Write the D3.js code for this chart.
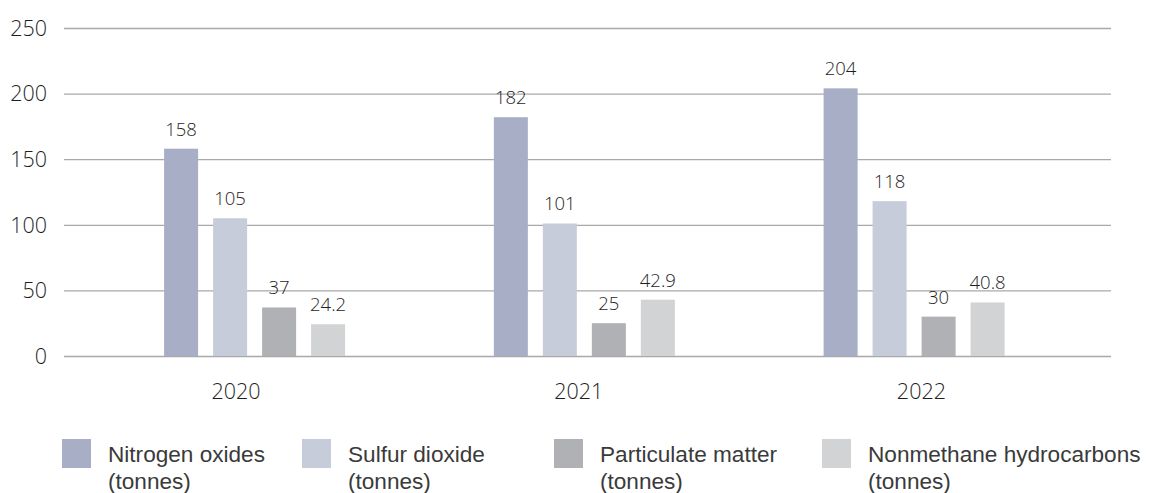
<!DOCTYPE html>
<html>
<head>
<meta charset="utf-8">
<script src="https://cdn.jsdelivr.net/npm/d3@7"></script>
<style>
  html, body { margin: 0; padding: 0; background: #fff; }
  svg { display: block; }
</style>
</head>
<body>
<svg id="chart" width="1151" height="493"></svg>
<script>
// ---- data ----
const years = ["2020", "2021", "2022"];
const seriesNames = ["Nitrogen oxides", "Sulfur dioxide", "Particulate matter", "Nonmethane hydrocarbons"];
const nitrogenOxides = [158, 182, 204];
const sulfurDioxide = [105, 101, 118];
const particulateMatter = [37, 25, 30];
const nonmethaneHydrocarbons = [24.2, 42.9, 40.8];
const valueLabels = [
  ["158", "182", "204"],
  ["105", "101", "118"],
  ["37", "25", "30"],
  ["24.2", "42.9", "40.8"]
];
const yTicks = [0, 50, 100, 150, 200, 250];
const unitLabel = "(tonnes)";

// ---- style / layout ----
const colors = ["#a7aec6", "#c6ccda", "#b0b1b5", "#d2d3d5"];
const gridColor = "#a9a9a9";
const textColor = "#1e1e1e";
const plotLeft = 64, plotRight = 1111, plotTop = 28, plotBottom = 356;

const svg = d3.select("#chart");

const y = d3.scaleLinear().domain([0, 250]).range([plotBottom, plotTop]);
const xGroup = d3.scalePoint().domain(years).range([254.6, 914.1]);
const xLabel = d3.scalePoint().domain(years).range([235.6, 920.9]);
const xInner = d3.scaleBand().domain(seriesNames).range([-90.5, 90.5]).paddingInner(0.306).paddingOuter(0);

// gridlines + y labels
const yAxis = d3.axisLeft(y).tickValues(yTicks).tickSize(-(plotRight - plotLeft)).tickPadding(17).tickFormat(d3.format("d"));
const gy = svg.append("g").attr("transform", `translate(${plotLeft},0)`).call(yAxis);
gy.select(".domain").remove();
gy.selectAll(".tick line").attr("stroke", gridColor).attr("stroke-width", 1.3);
gy.selectAll(".tick text")
  .attr("font-family", "'Open Sans', sans-serif")
  .attr("font-weight", 300)
  .attr("font-size", 21.5)
  .attr("fill", textColor)
  .attr("dy", "0.34em");

// bars
const seriesValues = [nitrogenOxides, sulfurDioxide, particulateMatter, nonmethaneHydrocarbons];
const rows = [];
seriesValues.forEach((vals, si) => {
  vals.forEach((v, yi) => rows.push({ s: seriesNames[si], si, year: years[yi], yi, v }));
});

const bars = svg.append("g");
bars.selectAll("rect").data(rows).join("rect")
  .attr("x", d => xGroup(d.year) + xInner(d.s))
  .attr("y", d => y(d.v))
  .attr("width", xInner.bandwidth())
  .attr("height", d => y(0) - y(d.v))
  .attr("fill", d => colors[d.si]);

bars.selectAll("text").data(rows).join("text")
  .attr("x", d => xGroup(d.year) + xInner(d.s) + xInner.bandwidth() / 2)
  .attr("y", d => y(d.v) - 13)
  .attr("text-anchor", "middle")
  .attr("font-family", "'Open Sans', sans-serif")
  .attr("font-weight", 300)
  .attr("font-size", 18.5)
  .attr("fill", textColor)
  .text(d => valueLabels[d.si][d.yi]);

// x labels
const xAxis = d3.axisBottom(xLabel).tickSize(0).tickPadding(0);
const gx = svg.append("g").attr("transform", `translate(0,${plotBottom})`).call(xAxis);
gx.select(".domain").remove();
gx.selectAll(".tick text")
  .attr("font-family", "'Open Sans', sans-serif")
  .attr("font-weight", 300)
  .attr("font-size", 21.5)
  .attr("fill", textColor)
  .attr("dy", "0")
  .attr("y", 43);

// legend
const legendX = [62, 302, 554, 822];
const lg = svg.append("g").selectAll("g").data(seriesNames).join("g")
  .attr("transform", (d, i) => `translate(${legendX[i]},439)`);
lg.append("rect").attr("width", 29).attr("height", 29).attr("fill", (d, i) => colors[i]);
const lt = lg.append("text")
  .attr("font-family", "'Liberation Sans', Arial, sans-serif")
  .attr("font-size", 22.6)
  .attr("fill", "#3a3a3a");
lt.append("tspan").attr("x", 46).attr("y", 23).text(d => d);
lt.append("tspan").attr("x", 46).attr("y", 49.5).text(unitLabel);
</script>
</body>
</html>
